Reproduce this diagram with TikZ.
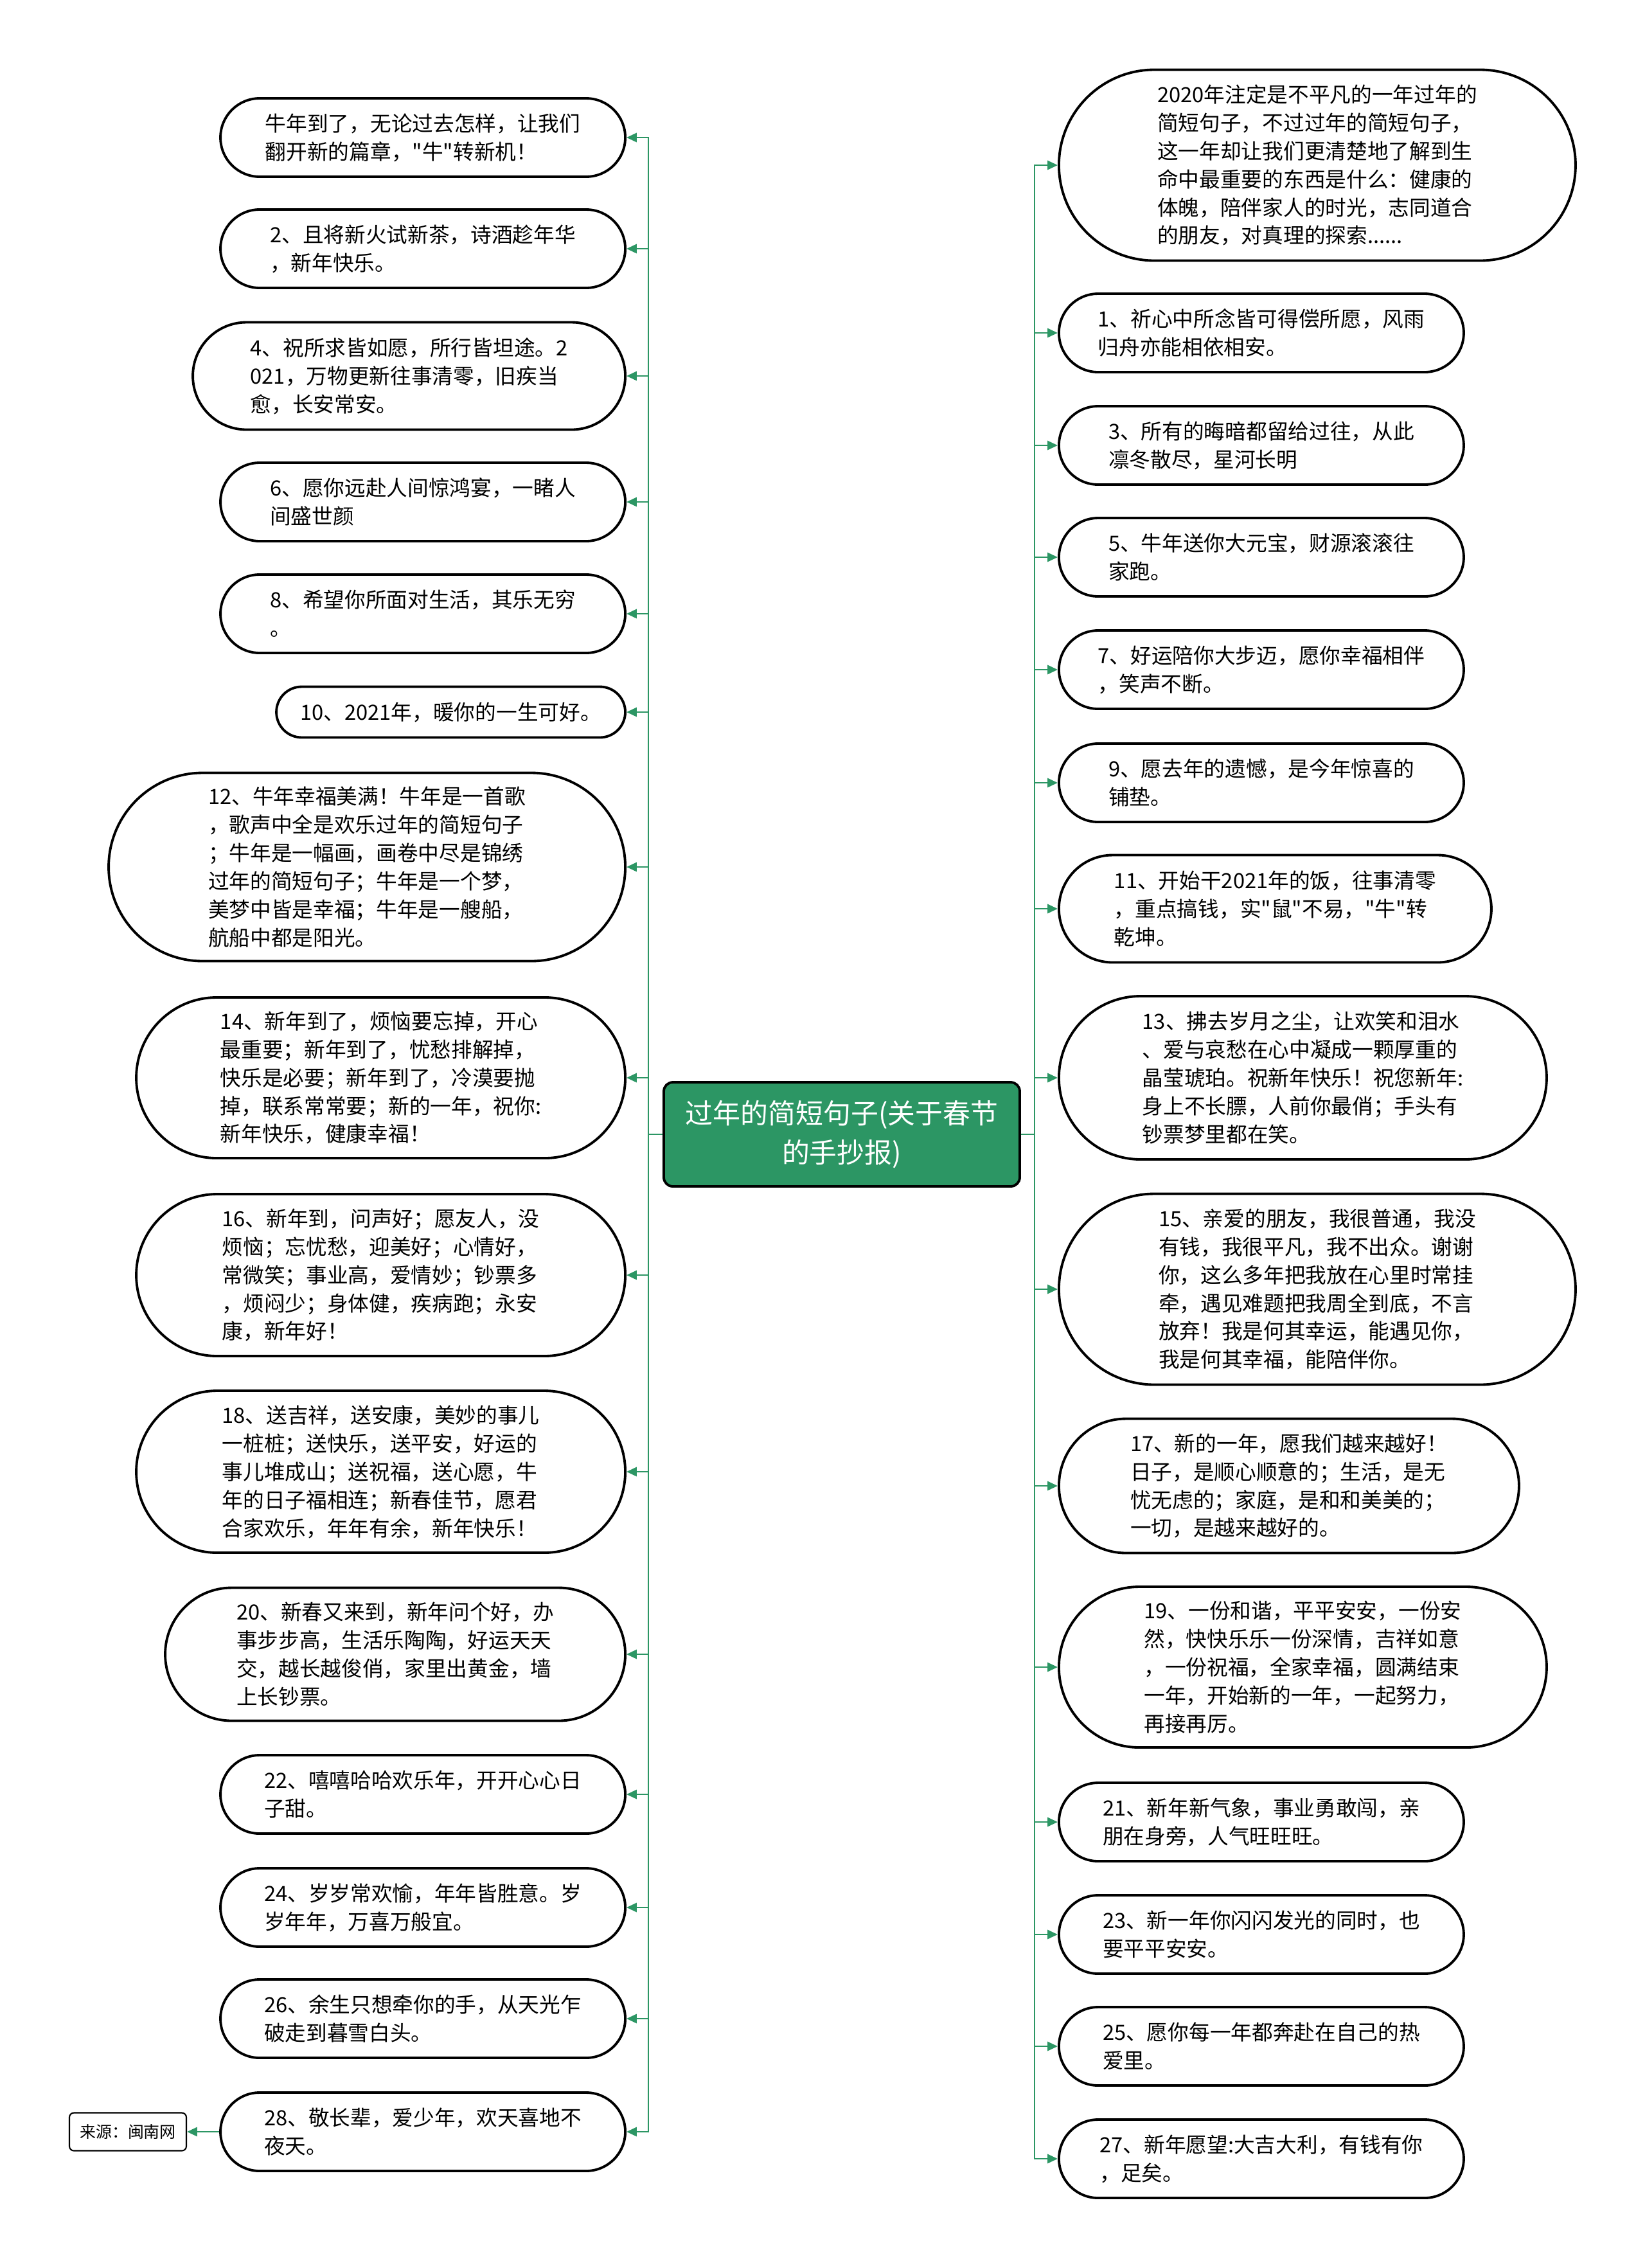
\documentclass[tikz,border=0pt]{standalone}
\usepackage{fontspec}
\setmainfont{Noto Sans CJK SC}[Ligatures=TeXOff]
\usetikzlibrary{arrows.meta,shapes.misc}
\definecolor{branch}{RGB}{44,150,100}

\begin{document}
\begin{tikzpicture}[
    leaf/.style={draw, line width=1.1pt, rounded rectangle, inner xsep=0pt, inner ysep=0pt,
      align=left, font=\fontsize{9.3}{12.5}\selectfont},
    short/.style={leaf, minimum width=6.3cm, minimum height=1.22cm},
    link/.style={draw=branch, line width=0.8pt, -{Triangle[length=4.5pt,width=4pt]}},
  ]
  \path[fill=white, use as bounding box] (0,0) rectangle (25.6,-35.29);
  % root
  \node[draw, line width=1.1pt, fill=branch, rounded corners=4pt, minimum width=5.54cm,
    minimum height=1.62cm, align=center, text=white, font=\fontsize{12.2}{17.3}\selectfont]
    (root) at (13.10,-17.65) {过年的简短句子(关于春节\\的手抄报)};
  % left side
  \node[short, anchor=east] (l1) at (9.75,-2.14) {牛年到了，无论过去怎样，让我们\\翻开新的篇章，"牛"转新机！};
  \node[short, anchor=east] (l2) at (9.75,-3.87) {2、且将新火试新茶，诗酒趁年华\\，新年快乐。};
  \node[leaf, anchor=east, minimum width=6.73cm, minimum height=1.67cm] (l3) at (9.75,-5.85) {4、祝所求皆如愿，所行皆坦途。2\\021，万物更新往事清零，旧疾当\\愈，长安常安。};
  \node[short, anchor=east] (l4) at (9.75,-7.81) {6、愿你远赴人间惊鸿宴，一睹人\\间盛世颜};
  \node[short, anchor=east] (l5) at (9.75,-9.55) {8、希望你所面对生活，其乐无穷\\。};
  \node[leaf, anchor=east, minimum width=5.43cm, minimum height=0.79cm] (l6) at (9.75,-11.08) {10、2021年，暖你的一生可好。};
  \node[leaf, anchor=east, minimum width=8.04cm, minimum height=2.93cm] (l7) at (9.75,-13.49) {12、牛年幸福美满！牛年是一首歌\\，歌声中全是欢乐过年的简短句子\\；牛年是一幅画，画卷中尽是锦绣\\过年的简短句子；牛年是一个梦，\\美梦中皆是幸福；牛年是一艘船，\\航船中都是阳光。};
  \node[leaf, anchor=east, minimum width=7.61cm, minimum height=2.5cm] (l8) at (9.75,-16.77) {14、新年到了，烦恼要忘掉，开心\\最重要；新年到了，忧愁排解掉，\\快乐是必要；新年到了，冷漠要抛\\掉，联系常常要；新的一年，祝你:\\新年快乐，健康幸福！};
  \node[leaf, anchor=east, minimum width=7.61cm, minimum height=2.52cm] (l9) at (9.75,-19.84) {16、新年到，问声好；愿友人，没\\烦恼；忘忧愁，迎美好；心情好，\\常微笑；事业高，爱情妙；钞票多\\，烦闷少；身体健，疾病跑；永安\\康，新年好！};
  \node[leaf, anchor=east, minimum width=7.61cm, minimum height=2.52cm] (l10) at (9.75,-22.90) {18、送吉祥，送安康，美妙的事儿\\一桩桩；送快乐，送平安，好运的\\事儿堆成山；送祝福，送心愿，牛\\年的日子福相连；新春佳节，愿君\\合家欢乐，年年有余，新年快乐！};
  \node[leaf, anchor=east, minimum width=7.16cm, minimum height=2.07cm] (l11) at (9.75,-25.74) {20、新春又来到，新年问个好，办\\事步步高，生活乐陶陶，好运天天\\交，越长越俊俏，家里出黄金，墙\\上长钞票。};
  \node[short, anchor=east] (l12) at (9.75,-27.92) {22、嘻嘻哈哈欢乐年，开开心心日\\子甜。};
  \node[short, anchor=east] (l13) at (9.75,-29.68) {24、岁岁常欢愉，年年皆胜意。岁\\岁年年，万喜万般宜。};
  \node[short, anchor=east] (l14) at (9.75,-31.41) {26、余生只想牵你的手，从天光乍\\破走到暮雪白头。};
  \node[short, anchor=east] (l15) at (9.75,-33.17) {28、敬长辈，爱少年，欢天喜地不\\夜天。};
  \node[draw, line width=0.6pt, rounded corners=2pt, minimum width=1.82cm, minimum height=0.59cm,
    font=\fontsize{7.1}{9}\selectfont] (src) at (1.99,-33.17) {来源：闽南网};
  % right side
  \node[leaf, anchor=west, minimum width=8.04cm, minimum height=2.97cm] (r1) at (16.46,-2.57) {2020年注定是不平凡的一年过年的\\简短句子，不过过年的简短句子，\\这一年却让我们更清楚地了解到生\\命中最重要的东西是什么：健康的\\体魄，陪伴家人的时光，志同道合\\的朋友，对真理的探索......};
  \node[short, anchor=west] (r2) at (16.46,-5.18) {1、祈心中所念皆可得偿所愿，风雨\\归舟亦能相依相安。};
  \node[short, anchor=west] (r3) at (16.46,-6.93) {3、所有的晦暗都留给过往，从此\\凛冬散尽，星河长明};
  \node[short, anchor=west] (r4) at (16.46,-8.67) {5、牛年送你大元宝，财源滚滚往\\家跑。};
  \node[short, anchor=west] (r5) at (16.46,-10.42) {7、好运陪你大步迈，愿你幸福相伴\\，笑声不断。};
  \node[short, anchor=west] (r6) at (16.46,-12.18) {9、愿去年的遗憾，是今年惊喜的\\铺垫。};
  \node[leaf, anchor=west, minimum width=6.73cm, minimum height=1.67cm] (r7) at (16.46,-14.14) {11、开始干2021年的饭，往事清零\\，重点搞钱，实"鼠"不易，"牛"转\\乾坤。};
  \node[leaf, anchor=west, minimum width=7.59cm, minimum height=2.54cm] (r8) at (16.46,-16.77) {13、拂去岁月之尘，让欢笑和泪水\\、爱与哀愁在心中凝成一颗厚重的\\晶莹琥珀。祝新年快乐！祝您新年:\\身上不长膘，人前你最俏；手头有\\钞票梦里都在笑。};
  \node[leaf, anchor=west, minimum width=8.04cm, minimum height=2.97cm] (r9) at (16.46,-20.06) {15、亲爱的朋友，我很普通，我没\\有钱，我很平凡，我不出众。谢谢\\你，这么多年把我放在心里时常挂\\牵，遇见难题把我周全到底，不言\\放弃！我是何其幸运，能遇见你，\\我是何其幸福，能陪伴你。};
  \node[leaf, anchor=west, minimum width=7.16cm, minimum height=2.09cm] (r10) at (16.46,-23.12) {17、新的一年，愿我们越来越好！\\日子，是顺心顺意的；生活，是无\\忧无虑的；家庭，是和和美美的；\\一切，是越来越好的。};
  \node[leaf, anchor=west, minimum width=7.59cm, minimum height=2.5cm] (r11) at (16.46,-25.94) {19、一份和谐，平平安安，一份安\\然，快快乐乐一份深情，吉祥如意\\，一份祝福，全家幸福，圆满结束\\一年，开始新的一年，一起努力，\\再接再厉。};
  \node[short, anchor=west] (r12) at (16.46,-28.35) {21、新年新气象，事业勇敢闯，亲\\朋在身旁，人气旺旺旺。};
  \node[short, anchor=west] (r13) at (16.46,-30.10) {23、新一年你闪闪发光的同时，也\\要平平安安。};
  \node[short, anchor=west] (r14) at (16.46,-31.84) {25、愿你每一年都奔赴在自己的热\\爱里。};
  \node[short, anchor=west] (r15) at (16.46,-33.59) {27、新年愿望:大吉大利，有钱有你\\，足矣。};
  % connectors
  \foreach \i in {1,...,15} {
    \draw[link] (root.west) -- ++(-0.22,0) |- (l\i.east);
    \draw[link] (root.east) -- ++(0.21,0) |- (r\i.west);
  }
  \draw[link] (l15.west) -- (src.east);
\end{tikzpicture}
\end{document}
